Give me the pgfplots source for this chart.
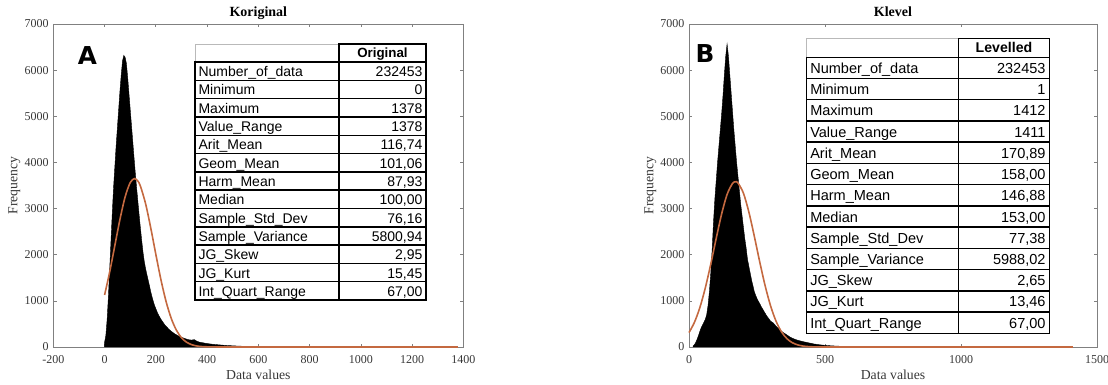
\documentclass[border=0pt]{standalone}
\usepackage{fontspec}
\setmainfont{Liberation Serif}
\newfontfamily\tabfont{Liberation Sans}
\newfontfamily\letterfont{DejaVu Sans}
\usepackage{pgfplots}
\pgfplotsset{compat=1.18}
\definecolor{axgray}{RGB}{128,128,128}
\definecolor{txtgray}{RGB}{55,55,55}
\definecolor{fitc}{RGB}{196,105,64}

\pgfplotsset{
 hist/.style={scale only axis, height=242.25pt, ymin=0, ymax=7000, ytick={0,1000,...,7000},
  tick align=inside, major tick length=2.5pt,
  axis line style={draw=axgray, line width=0.6pt},
  every tick/.style={axgray, line width=0.5pt},
  ticklabel style={font=\fontsize{9}{10}\selectfont, text=txtgray},
  /pgf/number format/1000 sep={}, /pgf/number format/assume math mode=true, scaled ticks=false,
  xlabel={Data values}, ylabel={Frequency},
  label style={font=\fontsize{10.3}{12}\selectfont, text=txtgray},
  xlabel style={at={(axis description cs:0.5,0)}, anchor=base, yshift=-24.5pt},
  ylabel style={at={(axis description cs:-0.095,0.5)}, anchor=center},
  every axis title shift=0pt,
  title style={font=\fontsize{10.5}{12}\selectfont\bfseries, at={(axis description cs:0.5,1)}, anchor=base, yshift=5.5pt},
  xticklabel style={anchor=base, yshift=-12.2pt},
  clip=false,
 }
}

\begin{document}
\begin{tikzpicture}[x=0.75pt,y=0.75pt]
\path[use as bounding box] (0,0) rectangle (1108,385);

% ---------------- Panel A ----------------
\begin{axis}[hist, at={(40pt,28.5pt)}, anchor=south west, width=307.5pt,
  xmin=-200, xmax=1400, xtick={-200,0,200,400,600,800,1000,1200,1400}, title={Koriginal}]
\addplot[fill=black, draw=black, line width=0.3pt, sharp plot] coordinates {
(0,100) (5,250) (10,600) (15,1100) (20,1700) (25,2300) (30,2900) (35,3450) (40,3900) (45,4350)
(50,4750) (55,5150) (60,5550) (65,5900) (70,6200) (75,6320) (80,6280) (85,6150) (90,5850) (95,5500)
(100,5150) (105,4800) (110,4450) (115,4100) (120,3760) (125,3450) (130,3150) (135,2850) (140,2570) (145,2300)
(150,2050) (155,1850) (160,1700) (165,1570) (170,1450) (175,1330) (180,1200) (185,1090) (190,990) (195,900)
(200,830) (205,760) (210,700) (215,650) (220,600) (225,560) (230,520) (235,480) (240,450) (245,420)
(250,390) (255,365) (260,340) (265,320) (270,300) (275,280) (280,265) (285,250) (290,235) (295,220)
(300,210) (310,190) (320,170) (330,155) (340,150) (350,160) (360,125) (370,105) (380,95) (390,85)
(400,75) (420,60) (440,50) (460,40) (480,32) (500,26) (520,20) (540,16) (560,12) (580,9) (600,6) (620,0)
} \closedcycle;
\addplot[fitc, line width=1.2pt, smooth] coordinates {
(0,1127) (20,1629) (40,2197) (60,2766) (80,3249) (100,3563) (116.74,3650) (130,3595) (140,3484)
(160,3106) (180,2585) (200,2008) (220,1456) (240,985) (260,622) (280,367) (300,202) (320,104)
(340,50) (360,22) (380,9) (400,4) (450,0)
};
\addplot[fitc, line width=1.2pt] coordinates {(450,0) (1378,0)};
\end{axis}

% ---------------- Panel B ----------------
\begin{axis}[hist, at={(516.75pt,28.5pt)}, anchor=south west, width=306pt,
  xmin=0, xmax=1500, xtick={0,500,1000,1500}, title={Klevel}]
\addplot[fill=black, draw=black, line width=0.3pt, sharp plot] coordinates {
(15,20) (20,50) (25,100) (30,170) (35,250) (40,340) (45,420) (50,480) (55,540) (60,600)
(65,700) (70,900) (75,1200) (80,1600) (85,2100) (90,2700) (95,3200) (100,3600) (105,4000) (110,4350)
(115,4700) (120,5050) (125,5450) (130,5900) (135,6300) (140,6570) (145,6300) (150,5900) (155,5500) (160,5100)
(165,4700) (170,4350) (175,4000) (180,3700) (185,3400) (190,3100) (195,2850) (200,2600) (205,2350) (210,2150)
(215,1900) (220,1750) (225,1600) (230,1450) (235,1330) (240,1200) (245,1120) (250,1050) (255,990) (260,940)
(265,880) (270,830) (275,780) (280,730) (285,680) (290,640) (295,600) (300,560) (310,520) (320,450)
(330,390) (340,340) (350,300) (360,260) (370,220) (380,190) (390,165) (400,145) (420,115) (440,90)
(460,65) (480,48) (500,36) (520,27) (540,20) (560,15) (580,10) (600,7) (620,4) (640,0)
} \closedcycle;
\addplot[fitc, line width=1.2pt, smooth] coordinates {
(0,313) (20,535) (40,856) (60,1282) (80,1796) (100,2353) (120,2884) (140,3306) (160,3545)
(171,3580) (180,3555) (200,3335) (220,2927) (240,2403) (260,1845) (280,1325) (300,890) (320,559)
(340,329) (360,181) (380,93) (400,45) (420,20) (440,8) (460,3) (500,0)
};
\addplot[fitc, line width=1.2pt] coordinates {(500,0) (1412,0)};
\end{axis}

% ---------------- panel letters ----------------
\node[font={\letterfont\bfseries\fontsize{18.5}{20}\selectfont}, inner sep=0] at (87.5,329) {A};
\node[font={\letterfont\bfseries\fontsize{18.5}{20}\selectfont}, inner sep=0] at (705,331) {B};

% ---------------- Table A ----------------
\begin{scope}[font={\tabfont\fontsize{10.5}{12}\selectfont}]
\fill[white] (195,85) rectangle (426,341);
\draw[gray!55, line width=0.5pt] (195,323) -- (195,341) -- (339,341);
\draw[line width=1.1pt] (339,323) rectangle (426,341);
\node[anchor=base, inner sep=0, font={\tabfont\bfseries\fontsize{10}{12}\selectfont}] at (382.5,327) {Original};
\foreach \lab/\val [count=\i] in {Number\_of\_data/232453, Minimum/0, Maximum/1378, Value\_Range/1378,
  Arit\_Mean/{116,74}, Geom\_Mean/{101,06}, Harm\_Mean/{87,93}, Median/{100,00}, Sample\_Std\_Dev/{76,16},
  Sample\_Variance/{5800,94}, JG\_Skew/{2,95}, JG\_Kurt/{15,45}, Int\_Quart\_Range/{67,00}} {
  \pgfmathsetmacro\yc{323-(\i-0.5)*18.31}
  \node[anchor=base west, inner sep=0] at (198.3,\yc-5.5) {\lab};
  \node[anchor=base east, inner sep=0] at (422.7,\yc-5.5) {\val};
  \draw[line width=1.1pt] (195,323-\i*18.31) -- (426,323-\i*18.31);
}
\draw[line width=1.1pt] (195,85) rectangle (426,323);
\draw[line width=1.1pt] (339,85) -- (339,341);
\end{scope}

% ---------------- Table B ----------------
\begin{scope}[font={\tabfont\fontsize{10.9}{12}\selectfont}]
\fill[white] (806.7,51.7) rectangle (1049.3,346.7);
\draw[gray!55, line width=0.5pt] (806.7,327.7) -- (806.7,346.7) -- (958.6,346.7);
\draw[line width=1.1pt] (958.6,327.7) rectangle (1049.3,346.7);
\node[anchor=base, inner sep=0, font={\tabfont\bfseries\fontsize{10.6}{12}\selectfont}] at (1004,332) {Levelled};
\foreach \lab/\val [count=\i] in {Number\_of\_data/232453, Minimum/1, Maximum/1412, Value\_Range/1411,
  Arit\_Mean/{170,89}, Geom\_Mean/{158,00}, Harm\_Mean/{146,88}, Median/{153,00}, Sample\_Std\_Dev/{77,38},
  Sample\_Variance/{5988,02}, JG\_Skew/{2,65}, JG\_Kurt/{13,46}, Int\_Quart\_Range/{67,00}} {
  \pgfmathsetmacro\yc{327.7-(\i-0.5)*21.23}
  \node[anchor=base west, inner sep=0] at (810,\yc-5.5) {\lab};
  \node[anchor=base east, inner sep=0] at (1045.8,\yc-5.5) {\val};
  \draw[line width=1.1pt] (806.7,327.7-\i*21.23) -- (1049.3,327.7-\i*21.23);
}
\draw[line width=1.1pt] (806.7,51.7) rectangle (1049.3,327.7);
\draw[line width=1.1pt] (958.6,51.7) -- (958.6,346.7);
\end{scope}
\end{tikzpicture}
\end{document}
